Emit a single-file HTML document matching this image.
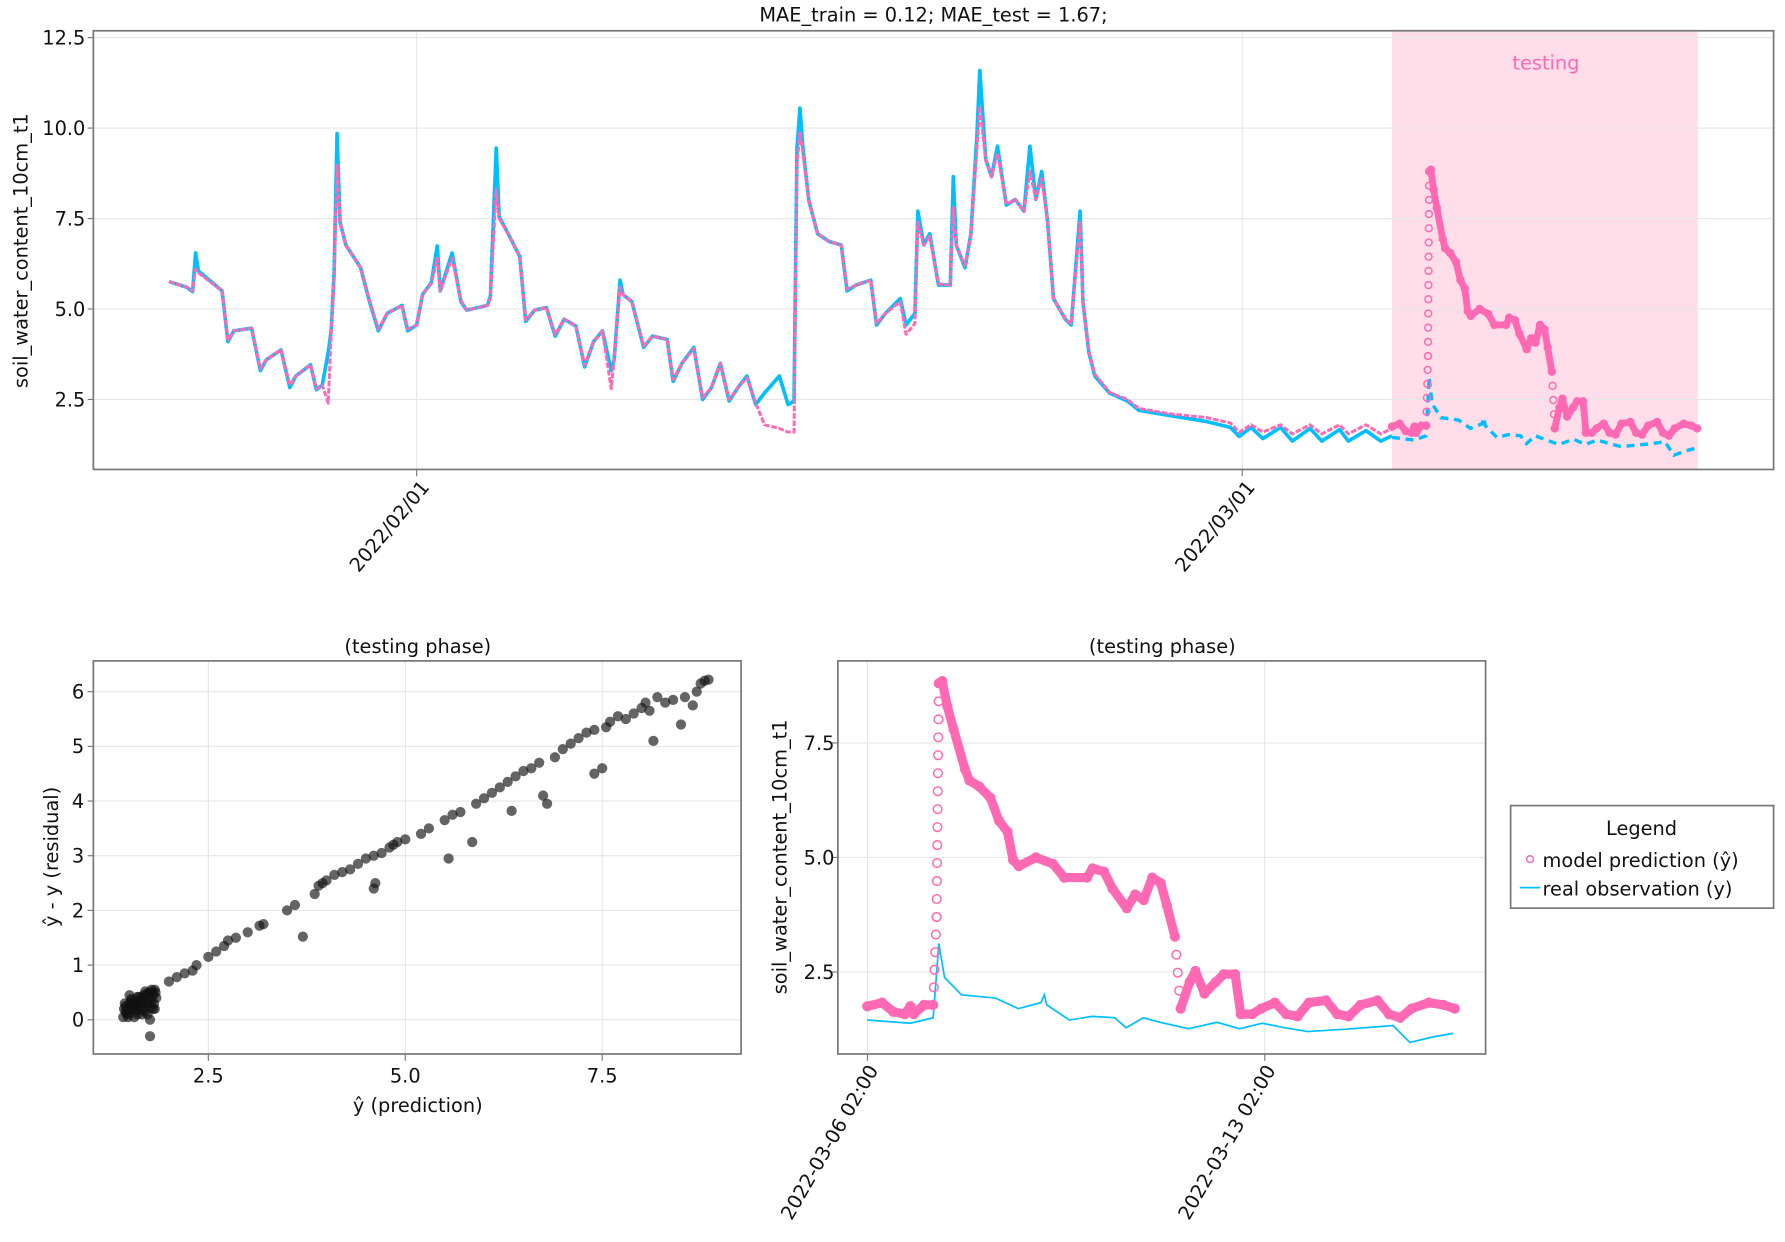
<!DOCTYPE html>
<html><head><meta charset="utf-8"><style>
html,body{margin:0;padding:0;background:#fff}
svg{display:block;font-family:"DejaVu Sans","Liberation Sans",sans-serif}
</style></head><body>
<svg id="fig" width="1785" height="1242" viewBox="0 0 1568 1090" preserveAspectRatio="none" xmlns="http://www.w3.org/2000/svg"></svg>
<script>
// ---- data ----
const obsTrainDays = [22.6,23.2,23.4,23.5,23.6,24.4,24.6,24.8,25.4,25.7,25.9,26.4,26.7,26.9,27.4,27.6,27.8,28.0,28.1,28.2,28.3,28.4,28.6,29.1,29.4,29.7,30.0,30.5,30.7,31.0,31.2,31.5,31.7,31.8,32.2,32.5,32.7,33.4,33.5,33.7,33.8,34.1,34.5,34.7,35.0,35.4,35.7,36.0,36.4,36.7,37.0,37.3,37.6,37.7,37.9,38.0,38.3,38.7,39.0,39.5,39.7,40.0,40.4,40.7,41.0,41.3,41.6,41.9,42.2,42.5,42.8,43.3,43.6,43.8,43.9,44.0,44.1,44.3,44.6,45.0,45.4,45.6,45.9,46.4,46.6,46.9,47.4,47.6,47.9,48.0,48.2,48.4,48.7,49.1,49.2,49.3,49.6,49.8,50.0,50.1,50.3,50.5,50.7,51.0,51.3,51.6,51.8,52.0,52.2,52.4,52.6,53.0,53.2,53.5,53.6,53.8,54.0,54.5,55.1,55.5,56.6,57.8,58.6,58.9,59.3,59.7,60.3,60.7,61.3,61.7,62.3,62.6,63.2,63.7,64.08];
const obsTrainVals = [5.76,5.6,5.48,6.55,6.05,5.5,4.1,4.4,4.47,3.3,3.6,3.87,2.83,3.15,3.46,2.77,2.9,3.8,4.4,6.0,9.85,7.4,6.77,6.14,5.2,4.4,4.88,5.1,4.4,4.56,5.4,5.73,6.74,5.5,6.55,5.2,4.97,5.1,5.35,9.45,7.55,7.08,6.45,4.66,4.97,5.04,4.25,4.72,4.53,3.4,4.1,4.4,3.3,3.6,5.8,5.4,5.2,3.94,4.25,4.16,3.0,3.5,3.94,2.5,2.83,3.5,2.46,2.83,3.15,2.36,2.68,3.15,2.36,2.46,9.45,10.55,9.45,8.0,7.08,6.86,6.77,5.5,5.66,5.8,4.56,4.88,5.29,4.56,4.88,7.7,6.77,7.08,5.66,5.66,8.66,6.77,6.14,7.08,9.76,11.59,9.13,8.66,9.5,7.87,8.03,7.7,9.5,8.03,8.8,7.4,5.29,4.72,4.56,7.7,5.2,3.8,3.15,2.68,2.46,2.2,2.05,1.89,1.73,1.48,1.73,1.42,1.73,1.35,1.7,1.35,1.67,1.35,1.64,1.35,1.5];
const predTrainVals = [5.76,5.6,5.5,6.1,6.0,5.5,4.15,4.4,4.47,3.35,3.6,3.87,2.9,3.15,3.46,2.8,2.9,2.4,4.3,5.8,9.0,7.4,6.77,6.14,5.25,4.45,4.88,5.1,4.45,4.56,5.4,5.7,6.4,5.5,6.4,5.25,4.97,5.1,5.3,8.3,7.5,7.08,6.45,4.7,4.97,5.04,4.3,4.72,4.53,3.45,4.1,4.4,2.8,3.6,5.6,5.4,5.2,3.98,4.25,4.16,3.05,3.5,3.9,2.55,2.83,3.5,2.5,2.83,3.1,2.4,1.8,1.7,1.6,1.6,9.0,9.9,9.3,8.0,7.08,6.86,6.77,5.55,5.66,5.8,4.6,4.88,5.2,4.3,4.6,7.4,6.77,7.0,5.7,5.66,7.8,6.77,6.2,7.0,9.4,10.6,9.1,8.66,9.3,7.9,8.03,7.7,8.8,8.03,8.6,7.4,5.3,4.72,4.6,7.4,5.2,3.85,3.2,2.7,2.5,2.25,2.1,2.0,1.85,1.6,1.8,1.6,1.8,1.55,1.8,1.55,1.8,1.55,1.8,1.55,1.7];
const testDays = [64.08,64.34,64.54,64.74,64.84,64.9,65.08,65.24,65.3,65.34,65.4,65.49,65.6,65.8,65.88,66.05,66.25,66.4,66.55,66.65,66.75,67.05,67.35,67.55,67.95,68.05,68.25,68.4,68.65,68.8,68.95,69.1,69.25,69.36,69.5,69.6,69.76,69.86,70.02,70.22,70.36,70.56,70.66,70.86,71.02,71.26,71.46,71.66,71.86,72.16,72.36,72.56,72.77,73.07,73.27,73.47,73.67,73.97,74.23,74.43];
const testPredVals = [1.75,1.83,1.63,1.58,1.75,1.58,1.78,1.78,3.7,8.8,8.85,8.3,7.8,6.93,6.68,6.55,6.3,5.8,5.56,4.94,4.81,5.0,4.86,4.56,4.56,4.76,4.69,4.32,3.89,4.19,4.07,4.56,4.44,3.94,3.27,1.7,2.28,2.52,2.03,2.28,2.45,2.45,1.58,1.58,1.7,1.83,1.58,1.53,1.83,1.88,1.58,1.53,1.78,1.88,1.58,1.5,1.7,1.83,1.78,1.7];
const testObsDays = [64.08,64.84,65.24,65.34,65.44,65.74,66.34,66.74,67.14,67.2,67.24,67.64,68.04,68.44,68.64,68.94,69.24,69.74,70.24,70.64,71.04,71.44,71.84,72.64,73.34,73.64,74.04,74.4];
const testObsVals = [1.45,1.38,1.5,3.12,2.38,2.0,1.93,1.7,1.83,2.0,1.78,1.45,1.53,1.5,1.28,1.5,1.4,1.26,1.4,1.26,1.38,1.28,1.2,1.26,1.33,0.96,1.08,1.16];
const scatterPred = [1.42,1.45,1.48,1.5,1.52,1.55,1.58,1.6,1.62,1.65,1.68,1.7,1.72,1.75,1.78,1.8,1.82,1.45,1.5,1.55,1.6,1.65,1.7,1.75,1.8,1.83,1.48,1.58,1.68,1.78,1.43,1.53,1.63,1.73,1.76,1.76,1.44,1.47,1.52,1.57,1.62,1.67,1.72,1.77,1.81,1.84,1.46,1.56,1.66,1.74,1.82,1.5,1.6,1.7,1.79,2.0,2.1,2.2,2.3,2.35,2.5,2.6,2.7,2.75,2.85,3.0,3.15,3.2,3.5,3.6,3.7,3.85,3.9,3.95,4.0,4.1,4.2,4.3,4.4,4.5,4.6,4.6,4.62,4.7,4.8,4.85,4.9,5.0,5.2,5.3,5.5,5.55,5.6,5.7,5.85,5.9,6.0,6.1,6.2,6.3,6.35,6.4,6.5,6.6,6.7,6.75,6.8,6.9,7.0,7.1,7.2,7.3,7.4,7.4,7.5,7.55,7.6,7.7,7.8,7.9,8.0,8.05,8.1,8.15,8.2,8.3,8.4,8.5,8.55,8.65,8.7,8.75,8.8,8.85];
const scatterResid = [0.05,0.15,0.1,0.25,0.2,0.3,0.15,0.35,0.2,0.3,0.25,0.4,0.3,0.5,0.35,0.45,0.55,0.25,0.3,0.2,0.1,0.4,0.15,0.3,0.2,0.5,0.05,0.25,0.45,0.55,0.2,0.35,0.3,0.1,0.0,-0.3,0.3,0.2,0.38,0.28,0.42,0.18,0.48,0.22,0.3,0.4,0.12,0.05,0.1,0.4,0.2,0.45,0.42,0.52,0.5,0.7,0.78,0.85,0.9,1.0,1.15,1.25,1.35,1.45,1.5,1.6,1.72,1.75,2.0,2.1,1.52,2.3,2.45,2.5,2.55,2.65,2.7,2.75,2.85,2.95,3.0,2.4,2.5,3.05,3.15,3.2,3.25,3.3,3.4,3.5,3.65,2.95,3.75,3.8,3.25,3.95,4.05,4.15,4.25,4.35,3.82,4.45,4.55,4.6,4.7,4.1,3.95,4.8,4.95,5.05,5.15,5.25,5.3,4.5,4.6,5.35,5.45,5.55,5.5,5.6,5.7,5.8,5.65,5.1,5.9,5.8,5.85,5.4,5.9,5.75,6.0,6.15,6.2,6.22];
const topYTicks = [2.5,5.0,7.5,10.0,12.5];
const topXTickDays = [31,59];
const topXTickLabels = ["2022/02/01","2022/03/01"];
const scXTicks = [2.5,5.0,7.5];
const scYTicks = [0,1,2,3,4,5,6];
const brYTicks = [2.5,5.0,7.5];
const brXTickDays = [64.083,71.083];
const brXTickLabels = ["2022-03-06 02:00","2022-03-13 02:00"];

// ---- helpers ----
const NS="http://www.w3.org/2000/svg";
const svg=document.getElementById('fig');
function mk(tag,attrs,parent){const e=document.createElementNS(NS,tag);for(const k in attrs)e.setAttribute(k,attrs[k]);(parent||svg).appendChild(e);return e;}
function txt(s,attrs,parent){const e=mk('text',attrs,parent);e.textContent=s;return e;}
const PINK="#ff69b4", BLUE="#00bfff", GRID="#e6e6e6", FRAME="#777";

// ---- top chart ----
const T={l:82,r:1558,t:27,b:412};
const tx=d=>366+(d-31)*25.9;
const ty=v=>33+(12.5-v)*31.76;
const gTop=mk('g',{});


const tr=mk('rect',{x:tx(64.083),y:T.t,width:tx(74.45)-tx(64.083),height:T.b-T.t,fill:"#ffdde9"},gTop);


const tl=txt("testing",{x:1358,y:61,fill:PINK,'font-size':17,'text-anchor':'middle'},gTop);


topYTicks.forEach(v=>{
  const g=mk('line',{x1:T.l,x2:T.r,y1:ty(v),y2:ty(v),stroke:GRID,'stroke-width':1},gTop);
  
  
  mk('line',{x1:T.l-5,x2:T.l,y1:ty(v),y2:ty(v),stroke:FRAME},gTop);
  const t=txt(v.toFixed(1),{x:T.l-7,y:ty(v)+6,'font-size':17,'text-anchor':'end',fill:'#111'},gTop);
  
  
});
topXTickDays.forEach((d,i)=>{
  const g=mk('line',{x1:tx(d),x2:tx(d),y1:T.t,y2:T.b,stroke:GRID},gTop);
  
  
  mk('line',{x1:tx(d),x2:tx(d),y1:T.b,y2:T.b+6,stroke:FRAME},gTop);
  const t=txt(topXTickLabels[i],{x:0,y:0,'font-size':17,'text-anchor':'end',fill:'#111',transform:`translate(${tx(d)+12},${T.b+16}) rotate(-50)`},gTop);
  
  
});
function pts(days,vals,fx,fy){return days.map((d,i)=>fx(d).toFixed(1)+","+fy(vals[i]).toFixed(1)).join(" ");}
const obsLine=mk('polyline',{points:pts(obsTrainDays,obsTrainVals,tx,ty),fill:'none',stroke:BLUE,'stroke-width':3.2,'stroke-linejoin':'round'},gTop);


const obsTest=mk('polyline',{points:pts(testObsDays,testObsVals,tx,ty),fill:'none',stroke:BLUE,'stroke-width':3,'stroke-dasharray':'7,5'},gTop);


const predLine=mk('polyline',{points:pts(obsTrainDays,predTrainVals,tx,ty),fill:'none',stroke:PINK,'stroke-width':2.6,'stroke-dasharray':'5,1.5','stroke-linejoin':'round'},gTop);


function drawPredTest(fx,fy,parent,r,lw,name){
  for(let i=1;i<testDays.length;i++){
    const dv=Math.abs(testPredVals[i]-testPredVals[i-1]);
    const x1=fx(testDays[i-1]),y1=fy(testPredVals[i-1]),x2=fx(testDays[i]),y2=fy(testPredVals[i]);
    if(dv<1.2){
      const s=mk('line',{x1:x1,y1:y1,x2:x2,y2:y2,stroke:PINK,'stroke-width':lw,'stroke-linecap':'round'},parent);
      
      
    } else {
      const n=Math.max(2,Math.round(Math.abs(y2-y1)/(r*4)));
      for(let k=1;k<n;k++){
        const c=mk('circle',{cx:x1+(x2-x1)*k/n,cy:y1+(y2-y1)*k/n,r:r,fill:'none',stroke:PINK,'stroke-width':1.3},parent);
        
        
      }
    }
  }
  testDays.forEach((d,i)=>{
    const c=mk('circle',{cx:fx(d),cy:fy(testPredVals[i]),r:r,fill:'none',stroke:PINK,'stroke-width':1.4},parent);
    
    
  });
}
drawPredTest(tx,ty,gTop,3,6,'prediction-test');
mk('rect',{x:T.l,y:T.t,width:T.r-T.l,height:T.b-T.t,fill:'none',stroke:FRAME,'stroke-width':1.5},gTop);
const tt=txt("MAE_train = 0.12; MAE_test = 1.67;",{x:820,y:19,'font-size':17,'text-anchor':'middle',fill:'#111'},gTop);


const tyl=txt("soil_water_content_10cm_t1",{x:0,y:0,'font-size':17,'text-anchor':'middle',fill:'#111',transform:'translate(24,220) rotate(-90)'},gTop);



// ---- scatter chart ----
const S={l:82,r:651,t:580,b:925};
const sx=v=>183+(v-2.5)*69.2;
const sy=v=>895-v*48;
const gSc=mk('g',{});


scYTicks.forEach(v=>{
  mk('line',{x1:S.l,x2:S.r,y1:sy(v),y2:sy(v),stroke:GRID},gSc);
  mk('line',{x1:S.l-5,x2:S.l,y1:sy(v),y2:sy(v),stroke:FRAME},gSc);
  const t=txt(String(v),{x:S.l-8,y:sy(v)+6,'font-size':17,'text-anchor':'end',fill:'#111'},gSc);
  
  
});
scXTicks.forEach(v=>{
  mk('line',{x1:sx(v),x2:sx(v),y1:S.t,y2:S.b,stroke:GRID},gSc);
  mk('line',{x1:sx(v),x2:sx(v),y1:S.b,y2:S.b+6,stroke:FRAME},gSc);
  const t=txt(v.toFixed(1),{x:sx(v),y:S.b+25,'font-size':17,'text-anchor':'middle',fill:'#111'},gSc);
  
  
});
scatterPred.forEach((p,i)=>{
  const c=mk('circle',{cx:sx(p),cy:sy(scatterResid[i]),r:4.5,fill:'#111','fill-opacity':0.65},gSc);
  
  
});
mk('rect',{x:S.l,y:S.t,width:S.r-S.l,height:S.b-S.t,fill:'none',stroke:FRAME,'stroke-width':1.5},gSc);
let e=txt("(testing phase)",{x:367,y:573,'font-size':17,'text-anchor':'middle',fill:'#111'},gSc);


e=txt("ŷ (prediction)",{x:367,y:976,'font-size':17,'text-anchor':'middle',fill:'#111'},gSc);


e=txt("ŷ - y (residual)",{x:0,y:0,'font-size':17,'text-anchor':'middle',fill:'#111',transform:'translate(51,752) rotate(-90)'},gSc);



// ---- bottom-right chart ----
const B={l:736,r:1305,t:580,b:925};
const bx=d=>762+(d-64.083)*49.86;
const by=v=>652+(7.5-v)*40.2;
const gBr=mk('g',{});


brYTicks.forEach(v=>{
  mk('line',{x1:B.l,x2:B.r,y1:by(v),y2:by(v),stroke:GRID},gBr);
  mk('line',{x1:B.l-5,x2:B.l,y1:by(v),y2:by(v),stroke:FRAME},gBr);
  const t=txt(v.toFixed(1),{x:B.l-3,y:by(v)+6,'font-size':17,'text-anchor':'end',fill:'#111'},gBr);
  
  
});
brXTickDays.forEach((d,i)=>{
  mk('line',{x1:bx(d),x2:bx(d),y1:B.t,y2:B.b,stroke:GRID},gBr);
  mk('line',{x1:bx(d),x2:bx(d),y1:B.b,y2:B.b+6,stroke:FRAME},gBr);
  const t=txt(brXTickLabels[i],{x:0,y:0,'font-size':17,'text-anchor':'end',fill:'#111',transform:`translate(${bx(d)+10},${B.b+14}) rotate(-60)`},gBr);
  
  
});
const brObs=mk('polyline',{points:pts(testObsDays,testObsVals,bx,by),fill:'none',stroke:BLUE,'stroke-width':1.5},gBr);


drawPredTest(bx,by,gBr,3.8,8,'prediction');
mk('rect',{x:B.l,y:B.t,width:B.r-B.l,height:B.b-B.t,fill:'none',stroke:FRAME,'stroke-width':1.5},gBr);
e=txt("(testing phase)",{x:1021,y:573,'font-size':17,'text-anchor':'middle',fill:'#111'},gBr);


e=txt("soil_water_content_10cm_t1",{x:0,y:0,'font-size':17,'text-anchor':'middle',fill:'#111',transform:'translate(691,752) rotate(-90)'},gBr);



// ---- legend ----
const gL=mk('g',{});


mk('rect',{x:1327,y:707,width:231,height:90,fill:'#fff',stroke:FRAME,'stroke-width':1.5},gL);
e=txt("Legend",{x:1442,y:733,'font-size':17,'text-anchor':'middle',fill:'#111'},gL);


mk('circle',{cx:1344,cy:754,r:3,fill:'none',stroke:PINK,'stroke-width':1.3},gL);
e=txt("model prediction (ŷ)",{x:1355,y:761,'font-size':17,fill:'#111'},gL);


mk('line',{x1:1335,x2:1353,y1:779,y2:779,stroke:BLUE,'stroke-width':1.5},gL);
e=txt("real observation (y)",{x:1355,y:786,'font-size':17,fill:'#111'},gL);


</script>
</body></html>
